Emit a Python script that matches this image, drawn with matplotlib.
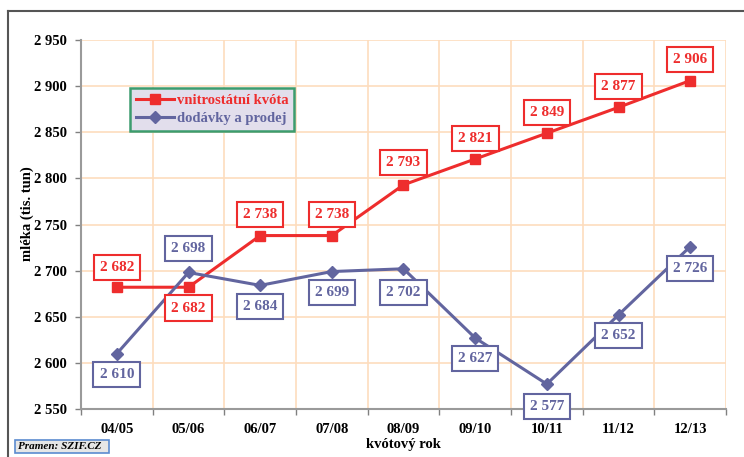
import matplotlib.pyplot as plt
from matplotlib.patches import Rectangle
from matplotlib.lines import Line2D

# kvótové roky a hodnoty (tis. tun)
roky = ['04/05', '05/06', '06/07', '07/08', '08/09', '09/10', '10/11', '11/12', '12/13']
kvota = [2682, 2682, 2738, 2738, 2793, 2821, 2849, 2877, 2906]
dodavky = [2610, 2698, 2684, 2699, 2702, 2627, 2577, 2652, 2726]

# posun popisku v bodech (kladny = nad bodem)
posun_kvota = [14, -15, 15, 15, 16, 15, 15, 15, 15]
posun_dodavky = [-15, 17, -15, -15, -17, -15, -16, -15, -16]

cervena = '#EE2D2D'
modra = '#62659F'
mrizka = '#FDDDBE'

plt.rcParams['font.family'] = ['Liberation Serif', 'DejaVu Serif']

fig = plt.figure(figsize=(7.44, 4.57), dpi=100)
ax = fig.add_axes([81 / 744, 48 / 457, 645 / 744, 369 / 457])

x = list(range(len(roky)))

ax.plot(x, kvota, color=cervena, lw=2.2, marker='s', ms=6.5, zorder=3)
ax.plot(x, dodavky, color=modra, lw=2.2, marker='D', ms=6, zorder=3)


def popisky(hodnoty, posuny, barva):
    for i, (v, p) in enumerate(zip(hodnoty, posuny)):
        ax.annotate(f'{v // 1000} {v % 1000:03d}', (i, v), xytext=(0, p),
                    textcoords='offset points', ha='center', va='center',
                    fontsize=11, fontweight='bold', color=barva, zorder=5,
                    bbox=dict(boxstyle='square,pad=0.4', fc='white',
                              ec=barva, lw=1.5))


popisky(kvota, posun_kvota, cervena)
popisky(dodavky, posun_dodavky, modra)

ax.set_xlim(-0.5, len(roky) - 0.5)
ax.set_ylim(2550, 2950)
ax.set_yticks(range(2550, 2951, 50))
ax.set_yticklabels([f'{v // 1000} {v % 1000:03d}' for v in range(2550, 2951, 50)],
                   fontsize=10.5, fontweight='bold')
ax.set_xticks(x)
ax.set_xticklabels(roky, fontsize=10.5, fontweight='bold')
ax.set_xticks([i - 0.5 for i in range(len(roky) + 1)], minor=True)
ax.tick_params(axis='x', which='major', length=0, pad=10)
ax.tick_params(axis='x', which='minor', length=4, color='#808080', width=1)
ax.tick_params(axis='y', length=4, color='#808080', width=1, pad=6)

ax.grid(True, axis='y', color=mrizka, lw=1.2)
ax.grid(True, axis='x', which='minor', color=mrizka, lw=1.2)
ax.set_axisbelow(True)
for s in ['top', 'right']:
    ax.spines[s].set_visible(False)
for s in ['left', 'bottom']:
    ax.spines[s].set_color('#9A9A9A')
    ax.spines[s].set_linewidth(1.5)

ax.set_ylabel('mléka (tis. tun)', fontsize=10.5, fontweight='bold')
ax.yaxis.set_label_coords(-0.073, 0.53)
ax.set_xlabel('kvótový rok', fontsize=10.5, fontweight='bold')
ax.xaxis.set_label_coords(0.5, -0.078)

handles = [Line2D([], [], color=cervena, lw=2.2, marker='s', ms=6.5),
           Line2D([], [], color=modra, lw=2.2, marker='D', ms=6)]
leg = ax.legend(handles, ['vnitrostátní kvóta', 'dodávky a prodej'],
                loc='upper left', bbox_to_anchor=(0.076, 0.87), borderaxespad=0,
                fancybox=False, framealpha=1, facecolor='#E2DEEC',
                edgecolor='#3C9C6E', handlelength=2.6,
                handletextpad=0.2, borderpad=0.4, labelspacing=0.35,
                prop=dict(weight='bold', size=10.5))
leg.get_frame().set_linewidth(1.8)
for t, c in zip(leg.get_texts(), [cervena, modra]):
    t.set_color(c)

# ramecek kolem grafu
fig.add_artist(Line2D([8 / 744, 1], [1 - 11 / 457] * 2, color='#555555', lw=1.5,
                      transform=fig.transFigure))
fig.add_artist(Line2D([8 / 744] * 2, [0, 1 - 11 / 457], color='#555555', lw=1.5,
                      transform=fig.transFigure))

# zdroj dat
fig.add_artist(Rectangle((15 / 744, 4 / 457), 94 / 744, 13 / 457, fc='#E6E6E6',
                         ec='#5B8BD0', lw=1.2, transform=fig.transFigure))
fig.text(18 / 744, 10.5 / 457, 'Pramen: SZIF.CZ', fontsize=8, fontweight='bold',
         fontstyle='italic', va='center', ha='left')

fig.savefig('out.png', dpi=100)
